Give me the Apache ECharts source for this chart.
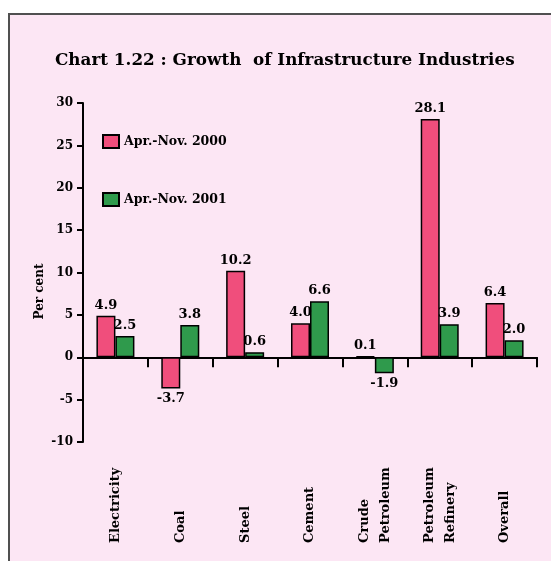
<!DOCTYPE html>
<html>
<head>
<meta charset="utf-8">
<script src="https://cdn.jsdelivr.net/npm/echarts@6/dist/echarts.min.js"></script>
<style>
    html, body { margin: 0; padding: 0; background: #fff; }
    #chart { width: 551px; height: 561px; }
</style>
</head>
<body>
<div id="chart"></div>
<script>
// data
const categories = ['Electricity', 'Coal', 'Steel', 'Cement', 'Crude\nPetroleum', 'Petroleum\nRefinery', 'Overall'];
const growth2000 = [4.9, -3.7, 10.2, 4.0, 0.1, 28.1, 6.4];
const growth2001 = [2.5, 3.8, 0.6, 6.6, -1.9, 3.9, 2.0];
const seriesNames = ['Apr.-Nov. 2000', 'Apr.-Nov. 2001'];

const serif = '"DejaVu Serif", "Liberation Serif", serif';

// negative bars get their label underneath
function withLabels(values) {
    return values.map(v => ({
        value: v,
        label: { position: v < 0 ? 'bottom' : 'top' },
    }));
}

let option = {
    backgroundColor: '#ffffff',
    animation: false,
    graphic: [
        {
            type: 'rect',
            z: -10,
            shape: { x: 9, y: 14, width: 600, height: 600 },
            style: { fill: '#fce6f4', stroke: '#505050', lineWidth: 2 },
        },
    ],
    title: {
        text: 'Chart 1.22 : Growth  of Infrastructure Industries',
        left: 50,
        top: 47,
        textStyle: {
            fontFamily: serif,
            fontSize: 16.8,
            fontWeight: 'bold',
            color: '#000',
        },
    },
    legend: {
        orient: 'vertical',
        left: 97,
        top: 129,
        icon: 'rect',
        itemWidth: 16,
        itemHeight: 13,
        itemGap: 43,
        textStyle: {
            fontFamily: serif,
            fontSize: 12.5,
            fontWeight: 'bold',
            color: '#000',
        },
        data: seriesNames,
    },
    grid: {
        left: 83,
        right: 14,
        top: 103,
        bottom: 119,
        containLabel: false,
        outerBoundsMode: 'none',
    },
    xAxis: {
        type: 'category',
        data: categories,
        axisLine: {
            onZero: true,
            lineStyle: { color: '#000', width: 2 },
        },
        axisTick: {
            show: true,
            length: 10,
            lineStyle: { color: '#000', width: 2 },
        },
        axisLabel: {
            interval: 0,
            rotate: 90,
            align: 'left',
            verticalAlign: 'middle',
            margin: 101,
            fontFamily: serif,
            fontSize: 13,
            fontWeight: 'bold',
            lineHeight: 21,
            color: '#000',
        },
    },
    yAxis: {
        type: 'value',
        min: -10,
        max: 30,
        interval: 5,
        name: 'Per cent',
        nameLocation: 'middle',
        nameGap: 37,
        nameRotate: 90,
        nameMoveOverlap: false,
        nameTextStyle: {
            fontFamily: serif,
            fontSize: 12,
            fontWeight: 'bold',
            color: '#000',
            padding: [0, 38, 0, 0],
        },
        axisLine: {
            show: true,
            lineStyle: { color: '#000', width: 2 },
        },
        axisTick: {
            show: true,
            length: 6,
            lineStyle: { color: '#000', width: 2 },
        },
        axisLabel: {
            margin: 10,
            fontFamily: serif,
            fontSize: 12,
            fontWeight: 'bold',
            color: '#000',
        },
        splitLine: { show: false },
    },
    series: [
        {
            name: seriesNames[0],
            type: 'bar',
            barWidth: 19,
            barGap: '0%',
            itemStyle: {
                color: '#f04e7c',
                borderColor: '#000',
                borderWidth: 1.5,
            },
            label: {
                show: true,
                distance: 4,
                fontFamily: serif,
                fontSize: 13,
                fontWeight: 'bold',
                color: '#000',
                formatter: p => p.value.toFixed(1),
            },
            data: withLabels(growth2000),
        },
        {
            name: seriesNames[1],
            type: 'bar',
            barWidth: 19,
            barGap: '0%',
            itemStyle: {
                color: '#2f9a4c',
                borderColor: '#000',
                borderWidth: 1.5,
            },
            label: {
                show: true,
                distance: 4,
                fontFamily: serif,
                fontSize: 13,
                fontWeight: 'bold',
                color: '#000',
                formatter: p => p.value.toFixed(1),
            },
            data: withLabels(growth2001),
        },
    ],
};

let chart = echarts.init(document.getElementById('chart'));
chart.setOption(option);
window.addEventListener('resize', () => {
    chart.resize();
});
</script>
</body>
</html>
